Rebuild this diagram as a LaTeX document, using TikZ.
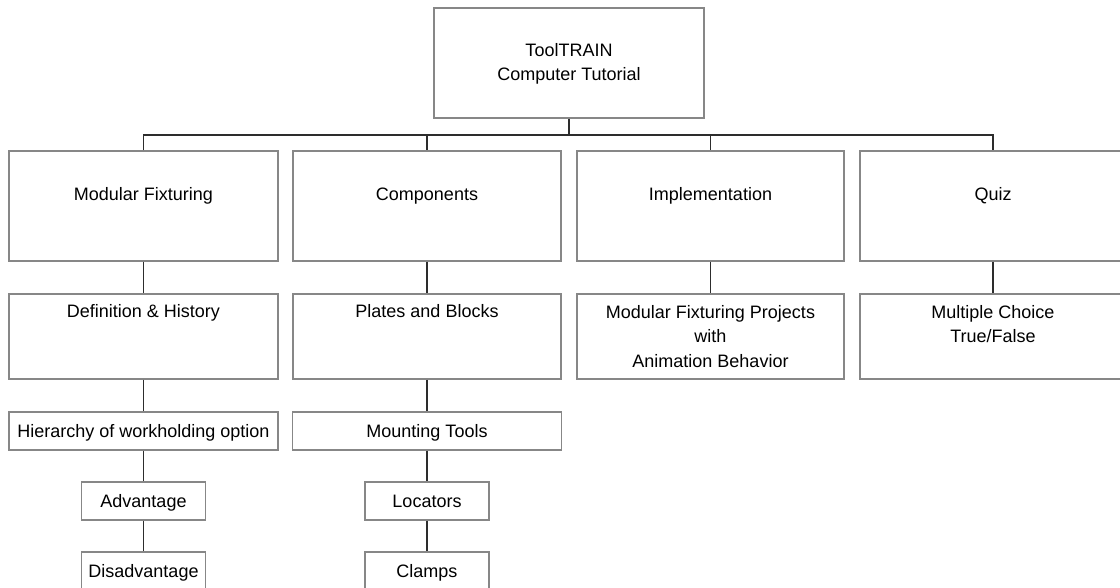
\documentclass[tikz,border=0pt]{standalone}
\usepackage{fontspec}
\setmainfont{Liberation Sans}
\usetikzlibrary{calc}
\definecolor{boxgray}{RGB}{135,135,135}
\definecolor{linegray}{RGB}{45,45,45}
\begin{document}
\begin{tikzpicture}[x=1pt,y=-1pt,
  box/.style={draw=boxgray,line width=1.3pt,inner sep=0pt,fill=white},
  txt/.style={inner sep=0pt,font=\fontsize{18}{24.5}\selectfont,align=center},
  conn/.style={draw=linegray,line width=1.3pt}]
\useasboundingbox (0,0) rectangle (1120,588);
% boxes
\node[box,minimum width=270pt,minimum height=110pt] (top) at (569,63) {};
\node[box,minimum width=269pt,minimum height=110pt] (mf) at (143.5,206) {};
\node[box,minimum width=268pt,minimum height=110pt] (cp) at (427,206) {};
\node[box,minimum width=267pt,minimum height=110pt] (im) at (710.5,206) {};
\node[box,minimum width=266pt,minimum height=110pt] (qz) at (993,206) {};
\node[box,minimum width=269pt,minimum height=85pt] (dh) at (143.5,336.5) {};
\node[box,minimum width=268pt,minimum height=85pt] (pb) at (427,336.5) {};
\node[box,minimum width=267pt,minimum height=85pt] (mp) at (710.5,336.5) {};
\node[box,minimum width=266pt,minimum height=85pt] (mc) at (993,336.5) {};
\node[box,minimum width=269pt,minimum height=38pt] (hw) at (143.5,431) {};
\node[box,minimum width=269pt,minimum height=38pt] (mt) at (427,431) {};
\node[box,minimum width=124pt,minimum height=38pt] (ad) at (143.5,501) {};
\node[box,minimum width=124pt,minimum height=38pt] (lc) at (427,501) {};
\node[box,minimum width=124pt,minimum height=38pt] (da) at (143.5,571) {};
\node[box,minimum width=124pt,minimum height=38pt] (cl) at (427,571) {};
% texts
\node[txt,anchor=north] (topt) at ($(top.north)+(0,35.5)$) {ToolTRAIN\\Computer Tutorial};
\node[txt,anchor=base] (mft) at ($(mf.north)+(0,50)$) {Modular Fixturing};
\node[txt,anchor=base] (cpt) at ($(cp.north)+(0,50)$) {Components};
\node[txt,anchor=base] (imt) at ($(im.north)+(0,50)$) {Implementation};
\node[txt,anchor=base] (qzt) at ($(qz.north)+(0,50)$) {Quiz};
\node[txt,anchor=base] (dht) at ($(dh.north)+(0,24.5)$) {Definition \& History};
\node[txt,anchor=base] (pbt) at ($(pb.north)+(0,24.5)$) {Plates and Blocks};
\node[txt,anchor=north] (mpt) at ($(mp.north)+(0,11.5)$) {Modular Fixturing Projects\\with\\Animation Behavior};
\node[txt,anchor=north] (mct) at ($(mc.north)+(0,11.5)$) {Multiple Choice\\True/False};
\node[txt,anchor=base] (hwt) at ($(hw.center)+(0,6.8)$) {Hierarchy of workholding option};
\node[txt,anchor=base] (mtt) at ($(mt.center)+(0,6.8)$) {Mounting Tools};
\node[txt,anchor=base] (adt) at ($(ad.center)+(0,6.8)$) {Advantage};
\node[txt,anchor=base] (lct) at ($(lc.center)+(0,6.8)$) {Locators};
\node[txt,anchor=base] (dat) at ($(da.center)+(0,6.8)$) {Disadvantage};
\node[txt,anchor=base] (clt) at ($(cl.center)+(0,6.8)$) {Clamps};
% connectors
\coordinate (j) at (569,135);
\draw[conn] (top.south) -- (j);
\draw[conn] (mf.north) -- (mf.north |- j) -- (qz.north |- j) -- (qz.north);
\draw[conn] (cp.north |- j) -- (cp.north);
\draw[conn] (im.north |- j) -- (im.north);
\draw[conn] (mf.south) -- (dh.north);
\draw[conn] (cp.south) -- (pb.north);
\draw[conn] (im.south) -- (mp.north);
\draw[conn] (qz.south) -- (mc.north);
\draw[conn] (dh.south) -- (hw.north);
\draw[conn] (pb.south) -- (mt.north);
\draw[conn] (hw.south) -- (ad.north);
\draw[conn] (mt.south) -- (lc.north);
\draw[conn] (ad.south) -- (da.north);
\draw[conn] (lc.south) -- (cl.north);
\end{tikzpicture}
\end{document}
